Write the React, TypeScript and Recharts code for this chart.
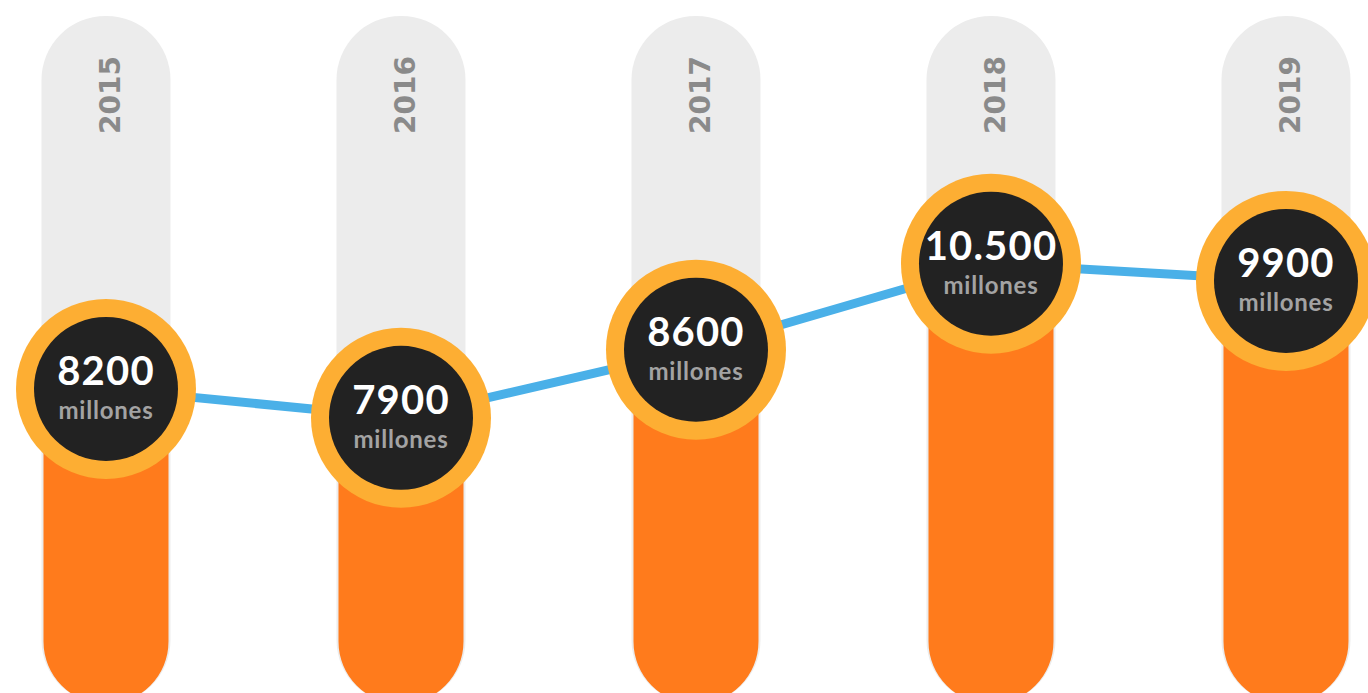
import React from "react";
import { ComposedChart, Bar, Line, XAxis, YAxis, Rectangle, LabelList } from "recharts";

// años y cifras (millones)
const anios = ["2015", "2016", "2017", "2018", "2019"];
const valores = ["8200", "7900", "8600", "10.500", "9900"];
// nivel de relleno de cada columna (% del carril)
const relleno = [45.8, 41.6, 51.5, 64.0, 61.5];

const data = anios.map((anio, i) => ({
  idx: i,
  anio,
  valor: valores[i],
  relleno: relleno[i],
}));

const BarraNaranja = (props: any) => {
  const { x, y, width, height } = props;
  return (
    <Rectangle
      x={x + 2}
      y={y}
      width={width - 4}
      height={height}
      radius={(width - 4) / 2}
      fill="#FF7B1C"
    />
  );
};

const Marcador = (props: any) => {
  const { cx, cy, index } = props;
  return (
    <g key={"m" + index}>
      <circle cx={cx} cy={cy} r={90} fill="#FDAE33" />
      <circle cx={cx} cy={cy} r={72} fill="#222222" />
      <text
        x={cx}
        y={cy - 4}
        textAnchor="middle"
        fill="#ffffff"
        fontSize={40}
        fontWeight={700}
        letterSpacing={1.2}
        fontFamily="Lato, sans-serif"
      >
        {valores[index]}
      </text>
      <text
        x={cx}
        y={cy + 30}
        textAnchor="middle"
        fill="#A3A3A3"
        fontSize={24}
        fontWeight={700}
        letterSpacing={0.8}
        fontFamily="Lato, sans-serif"
      >
        millones
      </text>
    </g>
  );
};

// año rotado dentro del carril gris
const EtiquetaAnio = (props: any) => {
  const { x, width, index } = props;
  const px = x + width / 2 + 14;
  const py = 95;
  return (
    <text
      key={"a" + index}
      x={px}
      y={py}
      transform={`rotate(-90 ${px} ${py})`}
      textAnchor="middle"
      fill="#8A8A8A"
      fontSize={28}
      fontWeight={700}
      fontFamily="DejaVu Sans, sans-serif"
    >
      {anios[index]}
    </text>
  );
};

const App: React.FC = () => {
  return (
    <div
      style={{
        position: "absolute",
        left: 0,
        top: 0,
        width: 1368,
        height: 693,
        overflow: "hidden",
        background: "#ffffff",
      }}
    >
      <ComposedChart
        width={1368}
        height={704}
        data={data}
        margin={{ top: 16, right: 0, bottom: 0, left: 0 }}
      >
        <XAxis
          dataKey="idx"
          type="number"
          domain={[-0.3593, 4.278]}
          ticks={[0, 1, 2, 3, 4]}
          hide
          allowDataOverflow
        />
        <YAxis hide domain={[0, 100]} />
        <Bar
          dataKey="relleno"
          barSize={129}
          background={{ fill: "#ECECEC", radius: 64 }}
          shape={<BarraNaranja />}
          isAnimationActive={false}
        >
          <LabelList dataKey="anio" content={<EtiquetaAnio />} />
        </Bar>
        <Line
          dataKey="relleno"
          stroke="#4AB0E8"
          strokeWidth={9}
          dot={<Marcador />}
          activeDot={false}
          isAnimationActive={false}
        />
      </ComposedChart>
    </div>
  );
};

export default App;
